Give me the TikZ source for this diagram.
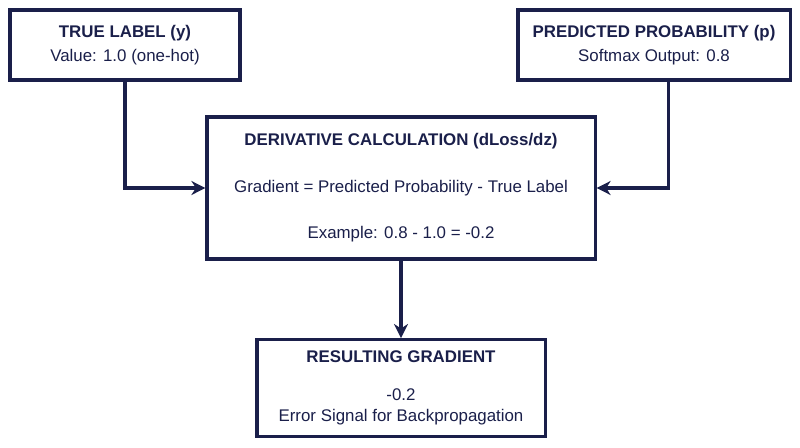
\documentclass[tikz,border=0pt]{standalone}
\usepackage{fontspec}
\setmainfont{Liberation Sans}
\usetikzlibrary{arrows.meta, positioning}
\definecolor{navy}{RGB}{26, 31, 74}

\begin{document}
\begin{tikzpicture}[
    x=0.025cm, y=-0.025cm,
    box/.style={rectangle, draw=navy, line width=2.2pt, align=center, text=navy, font=\fontsize{12}{15}\selectfont},
    link/.style={-{Stealth[length=10pt, width=10pt]}, line width=2.2pt, navy}
]
    \useasboundingbox (0,0) rectangle (800,447);

    % Inputs
    \node[box, minimum width=5.75cm, minimum height=1.75cm] (truelabel) at (125,45) {\textbf{TRUE LABEL (y)}\\[2pt]Value: 1.0 (one-hot)};
    \node[box, minimum width=6.8cm, minimum height=1.75cm] (predprob) at (654,45) {\textbf{PREDICTED PROBABILITY (p)}\\[2pt]Softmax Output: 0.8};

    % Calculation
    \node[box, minimum width=9.7cm, minimum height=3.55cm, font=\fontsize{12}{33}\selectfont] (derivcalc) at (401,188) {\textbf{DERIVATIVE CALCULATION (dLoss/dz)}\\Gradient = Predicted Probability - True Label\\Example: 0.8 - 1.0 = -0.2};

    % Result
    \node[box, minimum width=7.2cm, minimum height=2.42cm] (result) at (401,388) {\textbf{RESULTING GRADIENT}\\[12pt]-0.2\\Error Signal for Backpropagation};

    % Connectors
    \draw[link] (truelabel.south) |- (derivcalc.west);
    \draw[link] ([xshift=10]predprob.south) |- (derivcalc.east);
    \draw[link] (derivcalc.south) -- (result.north);
\end{tikzpicture}
\end{document}
